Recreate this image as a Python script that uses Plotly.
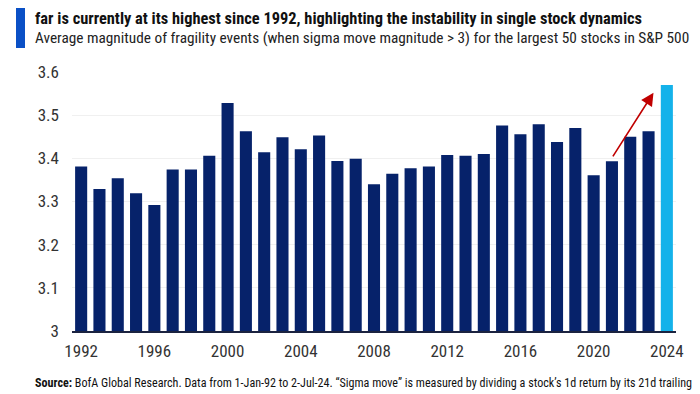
import plotly.graph_objects as go

years = list(range(1992, 2025))
values = [3.381, 3.329, 3.354, 3.319, 3.292, 3.374, 3.374, 3.406, 3.528, 3.463,
          3.414, 3.449, 3.421, 3.453, 3.394, 3.399, 3.340, 3.364, 3.377, 3.381,
          3.408, 3.406, 3.410, 3.476, 3.456, 3.479, 3.438, 3.470, 3.361, 3.393,
          3.450, 3.463, 3.570]
x_ticks = [1992, 1996, 2000, 2004, 2008, 2012, 2016, 2020, 2024]
y_ticks = [3, 3.1, 3.2, 3.3, 3.4, 3.5, 3.6]
y_tick_text = ["3", "3.1", "3.2", "3.3", "3.4", "3.5", "3.6"]

NAVY = "#06226a"
LIGHT = "#14b2ea"
colors = [NAVY] * (len(years) - 1) + [LIGHT]

NARROW = "Liberation Sans Narrow, Roboto Condensed, Arial Narrow, sans-serif"

# page has an 8px body margin; figure sized to fit the 700x394 window
OFF = 8
W, H = 700 - OFF, 394 - OFF
L, R, T, B = 64, 24, 64, 63
pw = W - L - R
ph = H - T - B


def px(xs):
    return (xs - OFF - L) / pw


def py(ys):
    return (H - B - (ys - OFF)) / ph


fig = go.Figure()
fig.add_trace(go.Bar(x=years, y=values, marker=dict(color=colors, line=dict(width=0))))

annotations = [
    dict(text="<b>Exhibit 5: The average magnitude of fragility events in the 50 largest stocks of the S&P this year so</b>",
         x=px(33), y=py(-2), xref="paper", yref="paper", xanchor="left", yanchor="middle",
         showarrow=False, font=dict(family=NARROW, size=16.3, color="#111111")),
    dict(text="<b>far is currently at its highest since 1992, highlighting the instability in single stock dynamics</b>",
         x=px(33), y=py(18.5), xref="paper", yref="paper", xanchor="left", yanchor="middle",
         showarrow=False, font=dict(family=NARROW, size=16.4, color="#111111")),
    dict(text="Average magnitude of fragility events (when sigma move magnitude > 3) for the largest 50 stocks in S&P 500",
         x=px(33), y=py(38.5), xref="paper", yref="paper", xanchor="left", yanchor="middle",
         showarrow=False, font=dict(family=NARROW, size=15.3, color="#222222")),
    dict(text="<b>Source:</b> BofA Global Research. Data from 1-Jan-92 to 2-Jul-24. \u201cSigma move\u201d is measured by dividing a stock\u2019s 1d return by its 21d trailing",
         x=px(33), y=py(383), xref="paper", yref="paper", xanchor="left", yanchor="middle",
         showarrow=False, font=dict(family=NARROW, size=12.1, color="#111111")),
    dict(x=2023.27, y=3.552, ax=2021.0, ay=values[years.index(2021)] + 0.008,
         xref="x", yref="y", axref="x", ayref="y", text="", showarrow=True,
         arrowhead=2, arrowsize=1.6, arrowwidth=1.6, arrowcolor="#c00000"),
]

fig.update_layout(
    width=W, height=H,
    margin=dict(l=L, r=R, t=T, b=B),
    paper_bgcolor="white", plot_bgcolor="white",
    showlegend=False,
    bargap=0.34,
    font=dict(family=NARROW, size=17, color="#333333"),
    annotations=annotations,
    shapes=[dict(type="rect", xref="paper", yref="paper",
                 x0=px(16), x1=px(25), y0=py(48), y1=py(-10),
                 fillcolor="#0a50c6", line=dict(width=0), layer="above")],
)
fig.update_xaxes(range=[1991.5, 2024.5], tickvals=x_ticks, showgrid=False,
                 showline=True, linecolor="#1b2340", linewidth=2, ticks="",
                 ticklabelstandoff=4, automargin=False,
                 tickfont=dict(family=NARROW, size=17, color="#333333"), zeroline=False)
fig.update_yaxes(range=[3, 3.6], tickvals=y_ticks, ticktext=y_tick_text,
                 showgrid=True, gridcolor="#f0f0f0", gridwidth=1, zeroline=False,
                 ticks="", ticklabelstandoff=12, automargin=False,
                 tickfont=dict(family=NARROW, size=17, color="#333333"))

fig.write_html("out.html")
